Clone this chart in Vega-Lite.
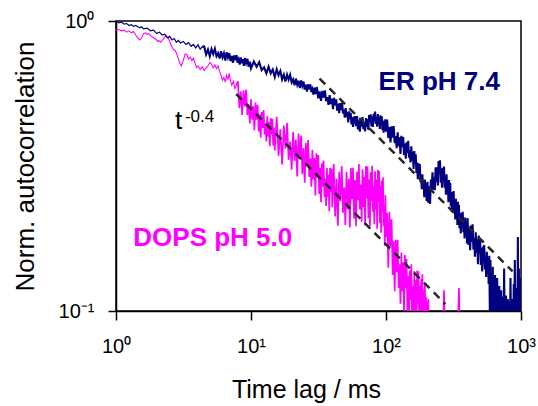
{
  "$schema": "https://vega.github.io/schema/vega-lite/v6.json",
  "width": 405,
  "height": 290,
  "autosize": {"type": "none"},
  "padding": {"left": 116, "top": 21, "right": 17, "bottom": 95},
  "background": "white",
  "config": {
    "view": {"stroke": "black", "strokeWidth": 1.5},
    "font": "Liberation Sans"
  },
  "datasets": {
    "er": [
      {"t":1,"g":1.0},{"t":1.05,"g":0.985},{"t":1.1,"g":0.99},{"t":1.15,"g":0.975},{"t":1.2,"g":0.98},{"t":1.25,"g":0.965},{"t":1.3,"g":0.972},{"t":1.35,"g":0.958},{"t":1.4,"g":0.965},{"t":1.45,"g":0.955},{"t":1.5,"g":0.948},{"t":1.55,"g":0.955},{"t":1.6,"g":0.94},{"t":1.7,"g":0.945},{"t":1.8,"g":0.925},{"t":1.9,"g":0.93},{"t":2.0,"g":0.905},{"t":2.1,"g":0.915},{"t":2.2,"g":0.895},{"t":2.3,"g":0.9},{"t":2.4,"g":0.875},{"t":2.5,"g":0.885},{"t":2.6,"g":0.86},{"t":2.7,"g":0.87},{"t":2.8,"g":0.845},{"t":2.9,"g":0.858},{"t":3.0,"g":0.84},{"t":3.15,"g":0.85},{"t":3.3,"g":0.83},{"t":3.45,"g":0.842},{"t":3.6,"g":0.818},{"t":3.75,"g":0.83},{"t":3.9,"g":0.808},{"t":4.05,"g":0.828},{"t":4.2,"g":0.8},{"t":4.35,"g":0.815},
      {"t":4.5,"g":0.817},{"t":4.65,"g":0.767},{"t":4.8,"g":0.797},{"t":4.95,"g":0.756},{"t":5.1,"g":0.8},{"t":5.25,"g":0.769},{"t":5.4,"g":0.802},{"t":5.55,"g":0.756},{"t":5.7,"g":0.775},{"t":5.85,"g":0.742},{"t":6.0,"g":0.786},{"t":6.15,"g":0.749},{"t":6.3,"g":0.774},{"t":6.45,"g":0.731},{"t":6.6,"g":0.78},{"t":6.75,"g":0.748},{"t":6.9,"g":0.775},{"t":7.05,"g":0.728},{"t":7.2,"g":0.757},{"t":7.35,"g":0.718},{"t":7.5,"g":0.761},{"t":7.65,"g":0.732},{"t":7.8,"g":0.763},{"t":7.95,"g":0.719},{"t":8.1,"g":0.737},{"t":8.25,"g":0.708},{"t":8.4,"g":0.749},{"t":8.55,"g":0.715},{"t":8.7,"g":0.739},{"t":8.85,"g":0.7},{"t":9.0,"g":0.745},{"t":9.2,"g":0.715},{"t":9.4,"g":0.741},{"t":9.6,"g":0.696},{"t":9.8,"g":0.724},{"t":10,"g":0.687},
      {"t":10.5,"g":0.725},{"t":11,"g":0.695},{"t":11.5,"g":0.721},{"t":12,"g":0.677},{"t":12.5,"g":0.692},{"t":13,"g":0.66},{"t":13.5,"g":0.696},{"t":14,"g":0.66},{"t":14.5,"g":0.68},{"t":15,"g":0.641},{"t":15.5,"g":0.681},{"t":16,"g":0.65},{"t":16.5,"g":0.672},{"t":17,"g":0.629},{"t":17.5,"g":0.653},{"t":18,"g":0.618},{"t":18.5,"g":0.653},{"t":19,"g":0.628},{"t":19.5,"g":0.652},{"t":20,"g":0.614},{"t":20.5,"g":0.628},{"t":21,"g":0.6},{"t":21.5,"g":0.634},{"t":22,"g":0.603},{"t":22.5,"g":0.622},{"t":23,"g":0.587},{"t":23.5,"g":0.624},{"t":24,"g":0.598},{"t":24.5,"g":0.618},{"t":25,"g":0.58},{"t":25.5,"g":0.603},{"t":26,"g":0.571},{"t":26.5,"g":0.605},{"t":27,"g":0.581},{"t":27.5,"g":0.604},{"t":28,"g":0.569},{"t":28.5,"g":0.582},{"t":29,"g":0.558},{"t":29.5,"g":0.589},{"t":30,"g":0.56},
      {"t":30.75,"g":0.592},{"t":31.5,"g":0.541},{"t":32.25,"g":0.572},{"t":33,"g":0.53},{"t":33.75,"g":0.574},{"t":34.5,"g":0.544},{"t":35.25,"g":0.576},{"t":36,"g":0.529},{"t":36.75,"g":0.546},{"t":37.5,"g":0.514},{"t":38.25,"g":0.555},{"t":39,"g":0.517},{"t":39.75,"g":0.54},{"t":40.5,"g":0.497},{"t":41.25,"g":0.543},{"t":42,"g":0.512},{"t":42.75,"g":0.537},{"t":43.5,"g":0.491},{"t":44.25,"g":0.519},{"t":45,"g":0.481},{"t":45.75,"g":0.521},{"t":46.5,"g":0.493},{"t":47.25,"g":0.523},{"t":48,"g":0.48},{"t":48.75,"g":0.495},{"t":49.5,"g":0.464},{"t":50.25,"g":0.501},{"t":51,"g":0.466},{"t":51.75,"g":0.486},{"t":52.5,"g":0.447},{"t":53.25,"g":0.488},{"t":54,"g":0.459},{"t":54.75,"g":0.482},{"t":55.5,"g":0.44},{"t":56.25,"g":0.465},{"t":57,"g":0.431},{"t":57.75,"g":0.468},{"t":58.5,"g":0.443},{"t":59.25,"g":0.47},{"t":60,"g":0.434},
      {"t":61,"g":0.47},{"t":62,"g":0.423},{"t":63,"g":0.454},{"t":64,"g":0.415},{"t":65,"g":0.458},{"t":66,"g":0.432},{"t":67,"g":0.466},{"t":68,"g":0.424},{"t":69,"g":0.445},{"t":70,"g":0.416},{"t":71,"g":0.463},{"t":72,"g":0.431},{"t":73,"g":0.459},{"t":74,"g":0.421},{"t":75,"g":0.474},{"t":76,"g":0.447},{"t":77,"g":0.477},{"t":78,"g":0.433},{"t":79,"g":0.468},{"t":80,"g":0.431},{"t":81,"g":0.479},{"t":82,"g":0.451},{"t":83,"g":0.487},{"t":84,"g":0.442},{"t":85,"g":0.463},{"t":86,"g":0.432},{"t":87,"g":0.478},{"t":88,"g":0.441},{"t":89,"g":0.467},{"t":90,"g":0.424},{"t":91,"g":0.473},{"t":92,"g":0.442},{"t":93,"g":0.469},{"t":94,"g":0.421},{"t":95,"g":0.451},{"t":96,"g":0.412},{"t":97,"g":0.454},{"t":98,"g":0.426},{"t":99,"g":0.458},{"t":100,"g":0.415},
      {"t":102,"g":0.457},{"t":104,"g":0.395},{"t":106,"g":0.431},{"t":108,"g":0.381},{"t":110,"g":0.433},{"t":112,"g":0.396},{"t":114,"g":0.434},{"t":116,"g":0.379},{"t":118,"g":0.401},{"t":120,"g":0.364},{"t":122,"g":0.413},{"t":124,"g":0.37},{"t":126,"g":0.397},{"t":128,"g":0.348},{"t":130,"g":0.402},{"t":132,"g":0.367},{"t":134,"g":0.398},{"t":136,"g":0.345},{"t":138,"g":0.378},{"t":140,"g":0.335},{"t":142,"g":0.382},{"t":144,"g":0.35},{"t":146,"g":0.386},{"t":148,"g":0.338},{"t":150,"g":0.358},{"t":152,"g":0.325},{"t":154,"g":0.37},{"t":156,"g":0.33},{"t":158,"g":0.354},{"t":160,"g":0.309},{"t":162,"g":0.356},{"t":164,"g":0.323},{"t":166,"g":0.347},{"t":168,"g":0.299},{"t":170,"g":0.325},{"t":172,"g":0.285},{"t":174,"g":0.323},{"t":176,"g":0.294},{"t":178,"g":0.321},{"t":180,"g":0.278},{"t":182,"g":0.293},{"t":184,"g":0.263},{"t":186,"g":0.296},{"t":188,"g":0.264},{"t":190,"g":0.283},{"t":192,"g":0.247},{"t":194,"g":0.284},{"t":196,"g":0.258},{"t":198,"g":0.277},{"t":200,"g":0.239},
      {"t":203,"g":0.279},{"t":206,"g":0.236},{"t":209,"g":0.269},{"t":212,"g":0.234},{"t":215,"g":0.284},{"t":218,"g":0.262},{"t":221,"g":0.301},{"t":224,"g":0.262},{"t":227,"g":0.289},{"t":230,"g":0.261},{"t":233,"g":0.313},{"t":236,"g":0.279},{"t":239,"g":0.313},{"t":242,"g":0.271},{"t":245,"g":0.329},{"t":248,"g":0.298},{"t":251,"g":0.331},{"t":254,"g":0.277},{"t":257,"g":0.31},{"t":260,"g":0.266},{"t":263,"g":0.312},{"t":266,"g":0.28},{"t":269,"g":0.315},{"t":272,"g":0.266},{"t":275,"g":0.286},{"t":278,"g":0.252},{"t":281,"g":0.296},{"t":284,"g":0.257},{"t":287,"g":0.28},{"t":290,"g":0.237},{"t":293,"g":0.283},{"t":296,"g":0.251},{"t":299,"g":0.276},{"t":302,"g":0.23},{"t":305,"g":0.256},{"t":308,"g":0.219},{"t":311,"g":0.257},{"t":314,"g":0.23},{"t":317,"g":0.259},{"t":320,"g":0.219},{"t":323,"g":0.235},{"t":326,"g":0.207},{"t":329,"g":0.244},{"t":332,"g":0.213},{"t":335,"g":0.233},{"t":338,"g":0.198},{"t":341,"g":0.238},{"t":344,"g":0.212},{"t":347,"g":0.232},{"t":350,"g":0.193},{"t":354,"g":0.216},{"t":358,"g":0.185},{"t":362,"g":0.218},{"t":366,"g":0.196},{"t":370,"g":0.22},{"t":374,"g":0.187},{"t":378,"g":0.201},{"t":382,"g":0.178},{"t":386,"g":0.21},{"t":390,"g":0.183},{"t":394,"g":0.201},{"t":398,"g":0.171},
      {"t":402,"g":0.209},{"t":408,"g":0.169},{"t":414,"g":0.195},{"t":420,"g":0.162},{"t":426,"g":0.197},{"t":432,"g":0.173},{"t":438,"g":0.199},{"t":444,"g":0.163},{"t":450,"g":0.179},{"t":456,"g":0.154},{"t":462,"g":0.187},{"t":468,"g":0.159},{"t":474,"g":0.177},{"t":480,"g":0.145},{"t":486,"g":0.182},{"t":492,"g":0.158},{"t":498,"g":0.177},{"t":504,"g":0.144},{"t":510,"g":0.165},{"t":516,"g":0.137},{"t":522,"g":0.167},{"t":528,"g":0.147},{"t":534,"g":0.169},{"t":540,"g":0.139},{"t":546,"g":0.152},{"t":552,"g":0.131},{"t":558,"g":0.16},{"t":564,"g":0.135},{"t":570,"g":0.152},{"t":576,"g":0.124},{"t":582,"g":0.155},{"t":588,"g":0.098},{"t":594,"g":0.15},{"t":600,"g":0.085},{"t":606,"g":0.135},{"t":612,"g":0.085},{"t":618,"g":0.142},{"t":624,"g":0.085},{"t":630,"g":0.128},{"t":636,"g":0.085},{"t":642,"g":0.133},{"t":648,"g":0.085},{"t":654,"g":0.12},{"t":660,"g":0.085},{"t":666,"g":0.13},{"t":672,"g":0.085},{"t":678,"g":0.115},{"t":684,"g":0.085},{"t":690,"g":0.122},{"t":696,"g":0.085},{"t":702,"g":0.11},{"t":708,"g":0.085},{"t":714,"g":0.118},{"t":720,"g":0.085},{"t":726,"g":0.107},{"t":732,"g":0.085},{"t":738,"g":0.112},{"t":744,"g":0.085},{"t":750,"g":0.14},{"t":756,"g":0.085},{"t":762,"g":0.105},{"t":768,"g":0.085},{"t":774,"g":0.113},{"t":780,"g":0.085},{"t":786,"g":0.104},{"t":792,"g":0.085},{"t":798,"g":0.11},{"t":804,"g":0.085},{"t":810,"g":0.102},{"t":816,"g":0.085},{"t":822,"g":0.108},{"t":828,"g":0.085},{"t":836,"g":0.13},{"t":844,"g":0.085},{"t":852,"g":0.104},{"t":860,"g":0.085},{"t":868,"g":0.11},{"t":876,"g":0.085},{"t":884,"g":0.124},{"t":892,"g":0.085},{"t":900,"g":0.15},{"t":908,"g":0.085},{"t":916,"g":0.108},{"t":924,"g":0.085},{"t":932,"g":0.12},{"t":940,"g":0.085},{"t":948,"g":0.18},{"t":956,"g":0.085},{"t":964,"g":0.14},{"t":972,"g":0.085},{"t":980,"g":0.112},{"t":988,"g":0.085},{"t":994,"g":0.13},{"t":1000,"g":0.09}
    ],
    "dops": [
      {"t":1,"g":0.93},{"t":1.05,"g":0.935},{"t":1.1,"g":0.925},{"t":1.15,"g":0.93},{"t":1.2,"g":0.915},{"t":1.25,"g":0.925},{"t":1.3,"g":0.91},{"t":1.35,"g":0.92},{"t":1.4,"g":0.895},{"t":1.45,"g":0.875},{"t":1.5,"g":0.86},{"t":1.55,"g":0.875},{"t":1.6,"g":0.905},{"t":1.65,"g":0.91},{"t":1.7,"g":0.9},{"t":1.75,"g":0.905},{"t":1.8,"g":0.89},{"t":1.9,"g":0.875},{"t":2.0,"g":0.86},{"t":2.05,"g":0.85},{"t":2.1,"g":0.855},{"t":2.15,"g":0.845},{"t":2.25,"g":0.87},{"t":2.35,"g":0.89},{"t":2.45,"g":0.87},{"t":2.55,"g":0.83},{"t":2.65,"g":0.8},{"t":2.75,"g":0.79},{"t":2.85,"g":0.76},{"t":2.95,"g":0.72},{"t":3.05,"g":0.7},{"t":3.15,"g":0.73},{"t":3.25,"g":0.77},{"t":3.35,"g":0.765},{"t":3.45,"g":0.74},{"t":3.55,"g":0.75},{"t":3.65,"g":0.73},{"t":3.75,"g":0.745},{"t":3.85,"g":0.715},{"t":3.95,"g":0.69},{"t":4.05,"g":0.7},{"t":4.2,"g":0.68},{"t":4.35,"g":0.695},{"t":4.5,"g":0.675},{"t":4.65,"g":0.69},{"t":4.8,"g":0.7},{"t":4.95,"g":0.72},{"t":5.1,"g":0.71},{"t":5.25,"g":0.69},{"t":5.4,"g":0.705},{"t":5.55,"g":0.685},{"t":5.7,"g":0.7},{"t":5.85,"g":0.67},{"t":6.0,"g":0.65},{"t":6.15,"g":0.625},{"t":6.3,"g":0.64},{"t":6.45,"g":0.615},{"t":6.6,"g":0.65},{"t":6.75,"g":0.63},{"t":6.9,"g":0.66},{"t":7.05,"g":0.62},{"t":7.2,"g":0.6},{"t":7.4,"g":0.62},{"t":7.6,"g":0.585},{"t":7.8,"g":0.6},
      {"t":8.0,"g":0.62},{"t":8.2,"g":0.5},{"t":8.4,"g":0.572},{"t":8.6,"g":0.474},{"t":8.8,"g":0.577},{"t":9.0,"g":0.506},{"t":9.2,"g":0.58},{"t":9.4,"g":0.474},{"t":9.6,"g":0.516},{"t":9.8,"g":0.443},{"t":10.0,"g":0.537},{"t":10.2,"g":0.457},{"t":10.4,"g":0.51},{"t":10.6,"g":0.42},{"t":10.8,"g":0.523},{"t":11.0,"g":0.457},{"t":11.2,"g":0.514},{"t":11.4,"g":0.416},{"t":11.6,"g":0.477},{"t":11.8,"g":0.397},{"t":12.0,"g":0.485},{"t":12.2,"g":0.428},{"t":12.4,"g":0.493},{"t":12.6,"g":0.406},{"t":12.8,"g":0.443},{"t":13.0,"g":0.384},{"t":13.2,"g":0.469},{"t":13.4,"g":0.4},{"t":13.6,"g":0.448},{"t":13.8,"g":0.37},{"t":14.0,"g":0.463},{"t":14.2,"g":0.406},{"t":14.4,"g":0.459},{"t":14.6,"g":0.372},{"t":14.8,"g":0.429},{"t":15.0,"g":0.358},
      {"t":15.5,"g":0.467},{"t":16,"g":0.343},{"t":16.5,"g":0.423},{"t":17,"g":0.32},{"t":17.5,"g":0.436},{"t":18,"g":0.363},{"t":18.5,"g":0.445},{"t":19,"g":0.332},{"t":19.5,"g":0.384},{"t":20,"g":0.307},{"t":20.5,"g":0.414},{"t":21,"g":0.329},{"t":21.5,"g":0.39},{"t":22,"g":0.291},{"t":22.5,"g":0.409},{"t":23,"g":0.336},{"t":23.5,"g":0.403},{"t":24,"g":0.296},{"t":24.5,"g":0.365},{"t":25,"g":0.277},{"t":25.5,"g":0.38},{"t":26,"g":0.316},{"t":26.5,"g":0.389},{"t":27,"g":0.29},{"t":27.5,"g":0.336},{"t":28,"g":0.268},{"t":28.5,"g":0.36},{"t":29,"g":0.284},{"t":29.5,"g":0.337},{"t":30,"g":0.25},{"t":30.5,"g":0.35},{"t":31,"g":0.288},{"t":31.5,"g":0.345},{"t":32,"g":0.253},{"t":32.5,"g":0.311},{"t":33,"g":0.237},{"t":33.5,"g":0.323},{"t":34,"g":0.269},{"t":34.5,"g":0.33},{"t":35,"g":0.247},{"t":35.5,"g":0.286},{"t":36,"g":0.23},{"t":36.5,"g":0.311},{"t":37,"g":0.248},{"t":37.5,"g":0.295},{"t":38,"g":0.221},{"t":38.5,"g":0.312},{"t":39,"g":0.257},{"t":39.5,"g":0.31},{"t":40,"g":0.228},
      {"t":41,"g":0.321},{"t":42,"g":0.212},{"t":43,"g":0.286},{"t":44,"g":0.197},{"t":45,"g":0.302},{"t":46,"g":0.239},{"t":47,"g":0.316},{"t":48,"g":0.218},{"t":49,"g":0.267},{"t":50,"g":0.198},{"t":51,"g":0.302},{"t":52,"g":0.224},{"t":53,"g":0.286},{"t":54,"g":0.194},{"t":55,"g":0.311},{"t":56,"g":0.243},{"t":57,"g":0.312},{"t":58,"g":0.208},{"t":59,"g":0.283},{"t":60,"g":0.196},{"t":61,"g":0.302},{"t":62,"g":0.241},{"t":63,"g":0.321},{"t":64,"g":0.224},{"t":65,"g":0.273},{"t":66,"g":0.203},{"t":67,"g":0.308},{"t":68,"g":0.228},{"t":69,"g":0.29},{"t":70,"g":0.197},{"t":71,"g":0.316},{"t":72,"g":0.245},{"t":73,"g":0.315},{"t":74,"g":0.209},{"t":75,"g":0.284},{"t":76,"g":0.196},{"t":77,"g":0.301},{"t":78,"g":0.239},{"t":79,"g":0.317},{"t":80,"g":0.22},{"t":81,"g":0.269},{"t":82,"g":0.199},{"t":83,"g":0.303},{"t":84,"g":0.224},{"t":85,"g":0.284},{"t":86,"g":0.192},{"t":87,"g":0.307},{"t":88,"g":0.238},{"t":89,"g":0.304},{"t":90,"g":0.201},{"t":91,"g":0.271},{"t":92,"g":0.186},{"t":93,"g":0.282},{"t":94,"g":0.22},{"t":95,"g":0.289},{"t":96,"g":0.196},{"t":97,"g":0.233},{"t":98,"g":0.168},{"t":99,"g":0.251},{"t":100,"g":0.18},
      {"t":102,"g":0.218},{"t":104,"g":0.141},{"t":106,"g":0.22},{"t":108,"g":0.167},{"t":110,"g":0.207},{"t":112,"g":0.133},{"t":114,"g":0.174},{"t":116,"g":0.117},{"t":118,"g":0.176},{"t":120,"g":0.136},{"t":122,"g":0.176},{"t":124,"g":0.12},{"t":126,"g":0.145},{"t":128,"g":0.106},{"t":130,"g":0.159},{"t":132,"g":0.117},{"t":134,"g":0.147},{"t":136,"g":0.098},{"t":138,"g":0.156},{"t":140,"g":0.12},{"t":142,"g":0.151},{"t":144,"g":0.099},{"t":146,"g":0.132},{"t":148,"g":0.09},{"t":150,"g":0.138},{"t":152,"g":0.109},{"t":154,"g":0.145},{"t":156,"g":0.09},{"t":158,"g":0.122},{"t":160,"g":0.09},{"t":162,"g":0.137},{"t":164,"g":0.09},{"t":166,"g":0.128},{"t":168,"g":0.086},{"t":170,"g":0.138},{"t":172,"g":0.106},{"t":174,"g":0.137},{"t":176,"g":0.09},{"t":178,"g":0.122},{"t":180,"g":0.085},{"t":182,"g":0.129},{"t":184,"g":0.101},{"t":186,"g":0.134},{"t":188,"g":0.085},{"t":190,"g":0.118},{"t":192,"g":0.085},{"t":194,"g":0.125},{"t":196,"g":0.085},{"t":198,"g":0.112},{"t":200,"g":0.085},{"t":202,"g":0.108},{"t":204,"g":0.085},{"t":206,"g":0.11},{"t":208,"g":0.085},{"t":212,"g":0.085},{"t":265,"g":0.085},{"t":269,"g":0.118},{"t":273,"g":0.085},{"t":340,"g":0.085},{"t":347,"g":0.12},{"t":352,"g":0.085},{"t":420,"g":0.085}
    ],
    "fits": [
      {"s":"DOPS","t":7.77,"g":0.56},{"s":"DOPS","t":275,"g":0.1057},
      {"s":"ER","t":32.2,"g":0.633},{"s":"ER","t":867,"g":0.137}
    ]
  },
  "encoding": {
    "x": {
      "field": "t", "type": "quantitative",
      "scale": {"type": "log", "domain": [1, 1000], "nice": false},
      "axis": {
        "values": [1, 10, 100, 1000],
        "labelExpr": "'10' + (datum.value >= 999 ? '³' : datum.value >= 99 ? '²' : datum.value >= 9 ? '¹' : '⁰')",
        "title": "Time lag / ms",
        "grid": false,
        "tickSize": 9, "tickWidth": 1.5, "tickColor": "black",
        "domainColor": "black", "domainWidth": 1.5,
        "labelFont": "Liberation Sans", "labelFontSize": 20, "labelColor": "black",
        "labelBaseline": "alphabetic", "labelPadding": 32, "labelFlush": false, "labelOverlap": false,
        "titleFont": "Liberation Sans", "titleFontSize": 25, "titleFontWeight": "normal", "titleColor": "black",
        "titleX": 190, "titleY": 86, "titleBaseline": "alphabetic", "titleAlign": "center"
      }
    },
    "y": {
      "field": "g", "type": "quantitative",
      "scale": {"type": "log", "domain": [0.1, 1], "nice": false},
      "axis": {
        "values": [0.1, 1],
        "labelExpr": "'10' + (datum.value >= 0.9 ? '⁰' : '⁻¹')",
        "title": "Norm. autocorrelation",
        "grid": false,
        "tickSize": 8, "tickWidth": 1.5, "tickColor": "black",
        "domainColor": "black", "domainWidth": 1.5,
        "labelFont": "Liberation Sans", "labelFontSize": 20, "labelColor": "black",
        "labelBaseline": "middle", "labelPadding": 14, "labelFlush": false, "labelOverlap": false,
        "titleFont": "Liberation Sans", "titleFontSize": 26, "titleFontWeight": "normal", "titleColor": "black",
        "titleX": -83, "titleY": 145, "titleAngle": -90, "titleBaseline": "alphabetic", "titleAlign": "center"
      }
    }
  },
  "layer": [
    {"data": {"name": "dops"}, "transform": [{"filter": "datum.t <= 8"}],
     "mark": {"type": "line", "color": "#ff00ff", "strokeWidth": 1.1, "clip": true}},
    {"data": {"name": "dops"}, "transform": [{"filter": "datum.t >= 7.8"}],
     "mark": {"type": "line", "color": "#ff00ff", "strokeWidth": 1.7, "clip": true}},
    {"data": {"name": "er"}, "transform": [{"filter": "datum.t <= 4.5"}],
     "mark": {"type": "line", "color": "#000080", "strokeWidth": 1.2, "clip": true}},
    {"data": {"name": "er"}, "transform": [{"filter": "datum.t >= 4.35"}],
     "mark": {"type": "line", "color": "#000080", "strokeWidth": 2.1, "clip": true}},
    {"data": {"name": "fits"}, "mark": {"type": "line", "color": "#262626", "strokeWidth": 2.5, "strokeDash": [8, 6], "clip": true},
     "encoding": {"detail": {"field": "s"}}},
    {"data": {"values": [{"label": "ER pH 7.4", "t": 88.1, "g": 0.58}]},
     "mark": {"type": "text", "align": "left", "baseline": "alphabetic", "font": "Liberation Sans", "fontSize": 26, "fontWeight": "bold", "color": "#000080"},
     "encoding": {"text": {"field": "label"}}},
    {"data": {"values": [{"label": "DOPS pH 5.0", "t": 1.343, "g": 0.1675}]},
     "mark": {"type": "text", "align": "left", "baseline": "alphabetic", "font": "Liberation Sans", "fontSize": 26, "fontWeight": "bold", "color": "#ff00ff"},
     "encoding": {"text": {"field": "label"}}},
    {"data": {"values": [{"label": "t", "t": 2.73, "g": 0.425}]},
     "mark": {"type": "text", "align": "left", "baseline": "alphabetic", "font": "Liberation Sans", "fontSize": 26, "color": "black"},
     "encoding": {"text": {"field": "label"}}},
    {"data": {"values": [{"label": "-0.4", "t": 3.24, "g": 0.45}]},
     "mark": {"type": "text", "align": "left", "baseline": "alphabetic", "font": "Liberation Sans", "fontSize": 17, "color": "black"},
     "encoding": {"text": {"field": "label"}}}
  ]
}
